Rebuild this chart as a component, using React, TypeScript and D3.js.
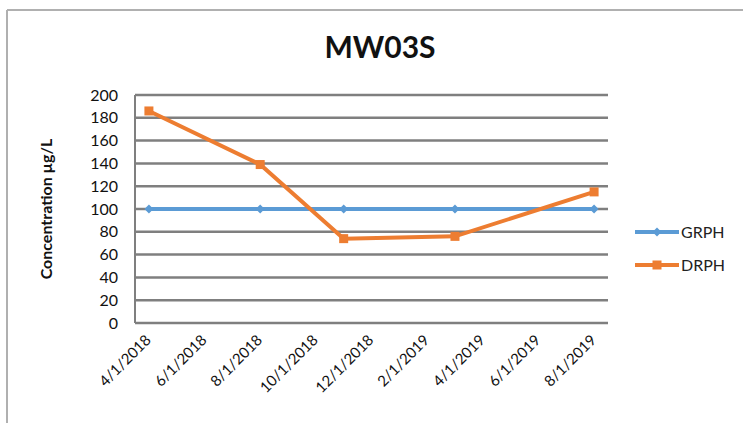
import React from "react";
import * as d3 from "d3";

const months = [
  "4/1/2018", "5/1/2018", "6/1/2018", "7/1/2018", "8/1/2018", "9/1/2018",
  "10/1/2018", "11/1/2018", "12/1/2018", "1/1/2019", "2/1/2019", "3/1/2019",
  "4/1/2019", "5/1/2019", "6/1/2019", "7/1/2019", "8/1/2019",
];
const tickLabels = [
  "4/1/2018", "6/1/2018", "8/1/2018", "10/1/2018", "12/1/2018",
  "2/1/2019", "4/1/2019", "6/1/2019", "8/1/2019",
];
const sampleMonths = ["4/1/2018", "8/1/2018", "11/1/2018", "3/1/2019", "8/1/2019"];
const grph = [100, 100, 100, 100, 100];
const drph = [186, 139, 74, 76, 115];
const yTicks = [0, 20, 40, 60, 80, 100, 120, 140, 160, 180, 200];

const W = 743;
const H = 423;
const left = 135;
const right = 608;
const top = 95;
const bottom = 323;
const FONT = "Lato, 'Open Sans', sans-serif";
const BLUE = "#5B9BD5";
const ORANGE = "#ED7D31";

export default function App() {
  const x = d3.scaleBand<string>().domain(months).range([left, right]).padding(0);
  const y = d3.scaleLinear().domain([0, 200]).range([bottom, top]);
  const cx = (m: string) => (x(m) as number) + x.bandwidth() / 2;
  const line = d3
    .line<[string, number]>()
    .x((d) => cx(d[0]))
    .y((d) => y(d[1]));
  const gData: [string, number][] = sampleMonths.map((m, i) => [m, grph[i]]);
  const dData: [string, number][] = sampleMonths.map((m, i) => [m, drph[i]]);

  const diamond = (px: number, py: number, r: number) =>
    `M${px},${py - r}L${px + r},${py}L${px},${py + r}L${px - r},${py}Z`;

  return (
    <svg
      width={W}
      height={H}
      style={{ position: "absolute", left: 0, top: 0, background: "#fff" }}
    >
      <rect x={0} y={0} width={W} height={H} fill="#fff" />
      {/* frame */}
      <line x1={7} y1={10} x2={W} y2={10} stroke="#b0b0b0" strokeWidth={2} />
      <line x1={7} y1={10} x2={7} y2={H} stroke="#b0b0b0" strokeWidth={2} />

      <text
        x={380}
        y={58}
        textAnchor="middle"
        fontFamily={FONT}
        fontWeight="bold"
        fontSize={30}
        fill="#111"
      >
        MW03S
      </text>

      {/* gridlines */}
      {yTicks.map((t) => (
        <line
          key={t}
          x1={left}
          x2={right}
          y1={y(t)}
          y2={y(t)}
          stroke="#7f7f7f"
          strokeWidth={2.5}
        />
      ))}
      <line x1={left} x2={left} y1={top} y2={bottom} stroke="#7f7f7f" strokeWidth={2} />

      {/* y tick labels */}
      {yTicks.map((t) => (
        <text
          key={t}
          x={118}
          y={y(t) + 5.5}
          textAnchor="end"
          fontFamily={FONT}
          fontSize={16}
          fill="#111"
        >
          {t}
        </text>
      ))}

      <text
        transform={`translate(52,${(top + bottom) / 2}) rotate(-90)`}
        textAnchor="middle"
        fontFamily={FONT}
        fontWeight="bold"
        fontSize={16}
        fill="#111"
      >
        Concentration µg/L
      </text>

      {/* x tick labels */}
      {tickLabels.map((t) => (
        <text
          key={t}
          transform={`translate(${cx(t) + 3},${bottom + 18}) rotate(-45)`}
          textAnchor="end"
          fontFamily={FONT}
          fontSize={15}
          fill="#111"
        >
          {t}
        </text>
      ))}

      {/* series */}
      <path d={line(gData) || ""} fill="none" stroke={BLUE} strokeWidth={4} />
      {gData.map((d, i) => (
        <path key={i} d={diamond(cx(d[0]), y(d[1]), 4.5)} fill={BLUE} />
      ))}
      <path d={line(dData) || ""} fill="none" stroke={ORANGE} strokeWidth={4} />
      {dData.map((d, i) => (
        <rect
          key={i}
          x={cx(d[0]) - 4.5}
          y={y(d[1]) - 4.5}
          width={9}
          height={9}
          fill={ORANGE}
        />
      ))}

      {/* legend */}
      <line x1={635} x2={679} y1={232} y2={232} stroke={BLUE} strokeWidth={4} />
      <path d={diamond(657, 232, 4.5)} fill={BLUE} />
      <text x={681} y={238} fontFamily={FONT} fontSize={16} fill="#222">
        GRPH
      </text>
      <line x1={635} x2={679} y1={265} y2={265} stroke={ORANGE} strokeWidth={4} />
      <rect x={652.5} y={260.5} width={9} height={9} fill={ORANGE} />
      <text x={681} y={271} fontFamily={FONT} fontSize={16} fill="#222">
        DRPH
      </text>
    </svg>
  );
}
